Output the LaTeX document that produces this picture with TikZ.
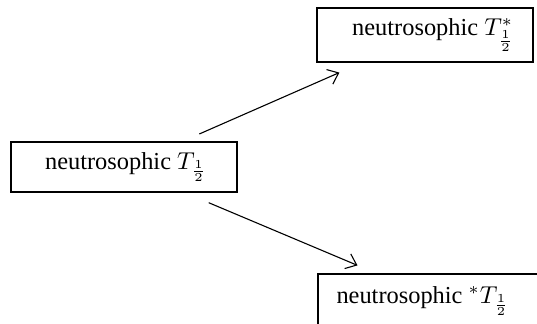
\documentclass[tikz,border=0pt]{standalone}
\usepackage{fontspec}
\setmainfont{Liberation Serif}
\usetikzlibrary{arrows.meta}

\newcommand{\px}{0.41pt}

\begin{document}
\begin{tikzpicture}[x=\px, y=-\px,
  tbox/.style={draw, line width=0.55pt, inner sep=0pt},
  toff/.style={execute at begin node={\hspace*{#1}}},
  tarrow/.style={-{Straight Barb[length=4pt,width=6.5pt]}, line width=0.45pt}]

\useasboundingbox (0,0) rectangle (537,323);

\node [tbox, minimum width=226*\px, minimum height=50*\px, toff=1.6pt]
  (half) at (124,167) {neutrosophic $T_{\frac{1}{2}}$};
\node [tbox, minimum width=216*\px, minimum height=54*\px, toff=6.6pt]
  (upper) at (425,35) {neutrosophic $T^{*}_{\frac{1}{2}}$};
\node [tbox, minimum width=248*\px, minimum height=54*\px, toff=-15.6pt]
  (lower) at (442,301) {neutrosophic ${}^{*}T_{\frac{1}{2}}$};

\draw [tarrow, shorten <=7.5pt, shorten >=10.1pt] (half) -- (upper);
\draw [tarrow, shorten <=10.6pt, shorten >=8.4pt] (half) -- (lower);

\end{tikzpicture}
\end{document}
